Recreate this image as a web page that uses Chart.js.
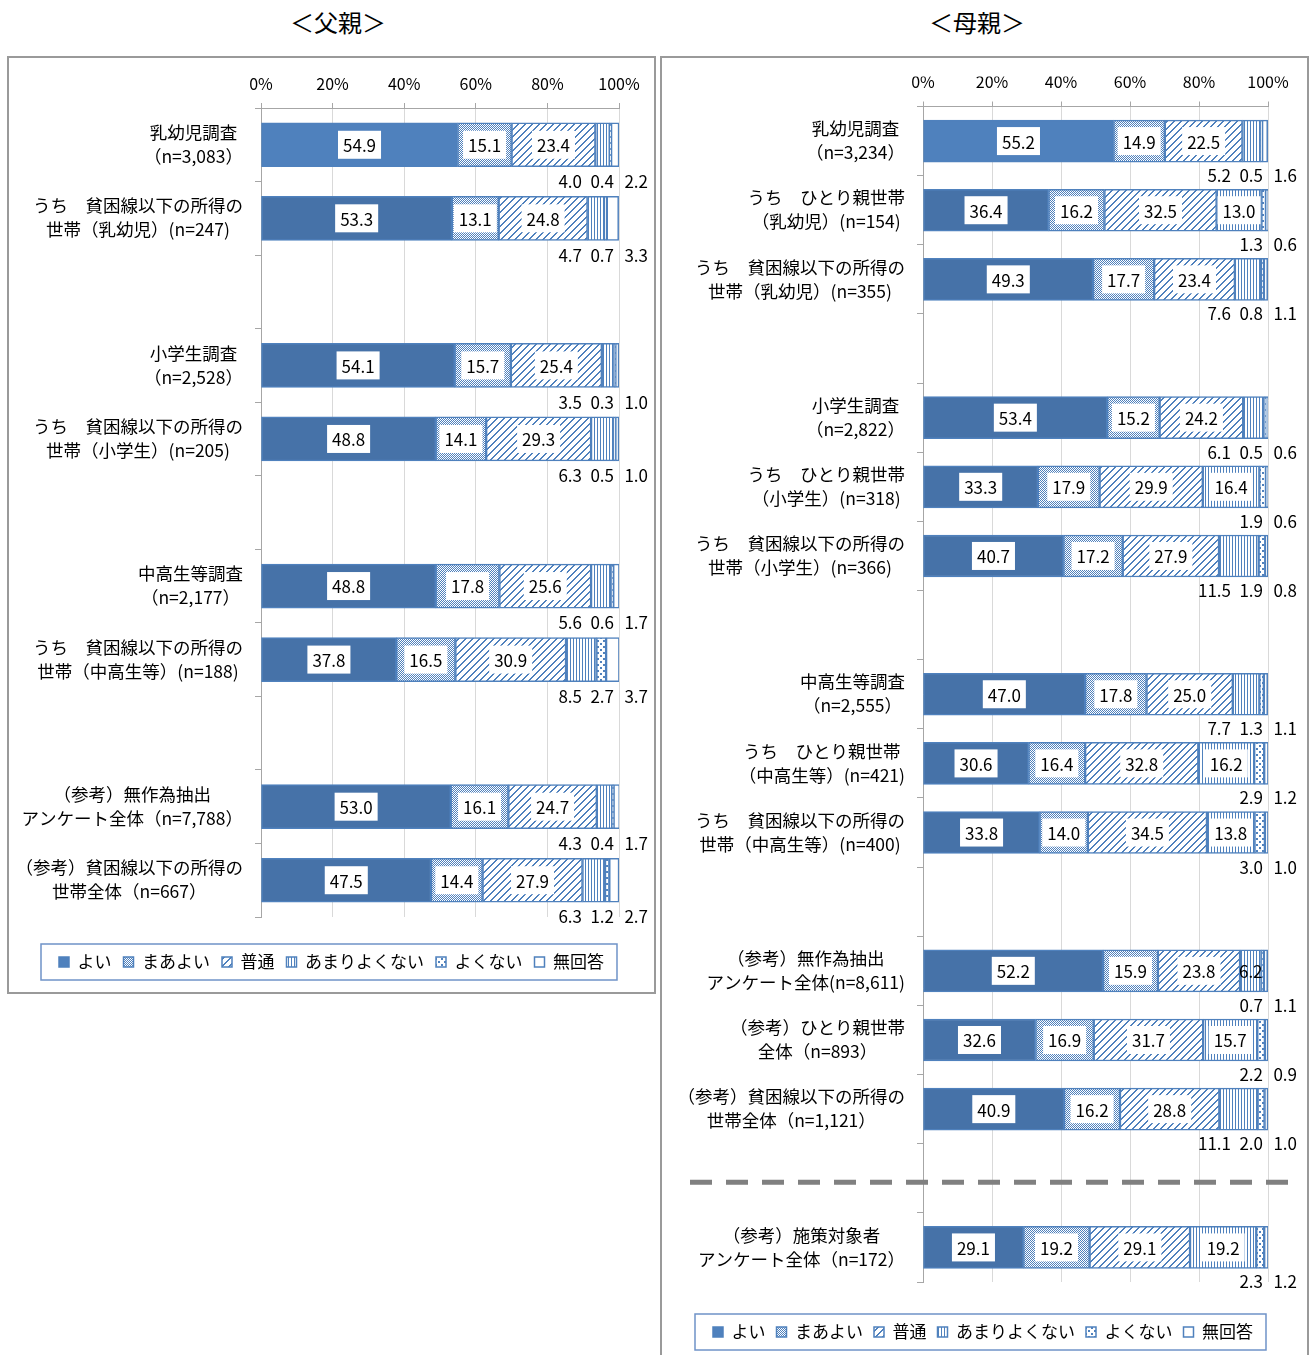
<!DOCTYPE html>
<html lang="ja">
<head>
<meta charset="utf-8">
<script src="https://cdn.jsdelivr.net/npm/chart.js@4.4.1/dist/chart.umd.min.js"></script>
<style>
  body { margin: 0; width: 1312px; height: 1355px; position: relative; overflow: hidden; background: #fff; font-family: "Noto Sans CJK JP", sans-serif; }
  .title { position: absolute; top: 6px; width: 200px; text-align: center; font-size: 24px; line-height: 32px; color: #000; }
  .panel { position: absolute; box-sizing: border-box; border: 2px solid #9a9a9a; }
  canvas { position: absolute; }
</style>
</head>
<body>
<div class="title" style="left:238px">＜父親＞</div>
<div class="title" style="left:877px">＜母親＞</div>
<div class="panel" style="left:7px;top:56px;width:649px;height:938px"></div>
<div class="panel" style="left:660px;top:56px;width:649px;height:1320px"></div>
<canvas id="father" width="645" height="933" style="left:9px;top:58px"></canvas>
<canvas id="mother" width="646" height="1297" style="left:662px;top:58px"></canvas>
<script>
const FONT = '"Noto Sans CJK JP", sans-serif';
Chart.defaults.font.family = FONT;
Chart.defaults.color = '#000';

const seriesNames = ['よい', 'まあよい', '普通', 'あまりよくない', 'よくない', '無回答'];
const xTicks = [0, 20, 40, 60, 80, 100];

// 父親 (empty slots are the gaps between groups)
const fatherRows = [
  ['乳幼児調査', '（n=3,083）'],
  ['うち　貧困線以下の所得の', '世帯（乳幼児）(n=247)'],
  [],
  ['小学生調査', '（n=2,528）'],
  ['うち　貧困線以下の所得の', '世帯（小学生）(n=205)'],
  [],
  ['中高生等調査', '（n=2,177）'],
  ['うち　貧困線以下の所得の', '世帯（中高生等）(n=188)'],
  [],
  ['（参考）無作為抽出', 'アンケート全体（n=7,788）'],
  ['（参考）貧困線以下の所得の', '世帯全体（n=667）']
];
const fatherGood     = [54.9, 53.3, null, 54.1, 48.8, null, 48.8, 37.8, null, 53.0, 47.5];
const fatherFairly   = [15.1, 13.1, null, 15.7, 14.1, null, 17.8, 16.5, null, 16.1, 14.4];
const fatherAverage  = [23.4, 24.8, null, 25.4, 29.3, null, 25.6, 30.9, null, 24.7, 27.9];
const fatherNotVery  = [4.0, 4.7, null, 3.5, 6.3, null, 5.6, 8.5, null, 4.3, 6.3];
const fatherBad      = [0.4, 0.7, null, 0.3, 0.5, null, 0.6, 2.7, null, 0.4, 1.2];
const fatherNoAnswer = [2.2, 3.3, null, 1.0, 1.0, null, 1.7, 3.7, null, 1.7, 2.7];

// 母親
const motherRows = [
  ['乳幼児調査', '（n=3,234）'],
  ['うち　ひとり親世帯', '（乳幼児）(n=154)'],
  ['うち　貧困線以下の所得の', '世帯（乳幼児）(n=355)'],
  [],
  ['小学生調査', '（n=2,822）'],
  ['うち　ひとり親世帯', '（小学生）(n=318)'],
  ['うち　貧困線以下の所得の', '世帯（小学生）(n=366)'],
  [],
  ['中高生等調査', '（n=2,555）'],
  ['うち　ひとり親世帯', '（中高生等）(n=421)'],
  ['うち　貧困線以下の所得の', '世帯（中高生等）(n=400)'],
  [],
  ['（参考）無作為抽出', 'アンケート全体(n=8,611)'],
  ['（参考）ひとり親世帯', '全体（n=893）'],
  ['（参考）貧困線以下の所得の', '世帯全体（n=1,121）'],
  [],
  ['（参考）施策対象者', 'アンケート全体（n=172）']
];
const motherGood     = [55.2, 36.4, 49.3, null, 53.4, 33.3, 40.7, null, 47.0, 30.6, 33.8, null, 52.2, 32.6, 40.9, null, 29.1];
const motherFairly   = [14.9, 16.2, 17.7, null, 15.2, 17.9, 17.2, null, 17.8, 16.4, 14.0, null, 15.9, 16.9, 16.2, null, 19.2];
const motherAverage  = [22.5, 32.5, 23.4, null, 24.2, 29.9, 27.9, null, 25.0, 32.8, 34.5, null, 23.8, 31.7, 28.8, null, 29.1];
const motherNotVery  = [5.2, 13.0, 7.6, null, 6.1, 16.4, 11.5, null, 7.7, 16.2, 13.8, null, 6.2, 15.7, 11.1, null, 19.2];
const motherBad      = [0.5, 1.3, 0.8, null, 0.5, 1.9, 1.9, null, 1.3, 2.9, 3.0, null, 0.7, 2.2, 2.0, null, 2.3];
const motherNoAnswer = [1.6, 0.6, 1.1, null, 0.6, 0.6, 0.8, null, 1.1, 1.2, 1.0, null, 1.1, 0.9, 1.0, null, 1.2];

const BLUE = '#4F81BD';
const DARK = '#4672A8';

function tile(w, h, on) {
  const c = document.createElement('canvas');
  c.width = w; c.height = h;
  const g = c.getContext('2d');
  g.fillStyle = '#fff';
  g.fillRect(0, 0, w, h);
  g.fillStyle = BLUE;
  for (let x = 0; x < w; x++)
    for (let y = 0; y < h; y++)
      if (on(x, y)) g.fillRect(x, y, 1, 1);
  return g.createPattern(c, 'repeat');
}

const fills = [
  c => c.dataIndex === 0 ? BLUE : DARK,
  tile(2, 2, (x, y) => (x + y) % 2 === 0),
  tile(7, 7, (x, y) => (x + y) % 7 < 2),
  tile(3, 1, x => x === 0),
  tile(6, 6, (x, y) => x % 3 < 2 && y % 3 < 2 && (x < 3) === (y < 3)),
  '#fff'
];

function rowLabels(rows) {
  return {
    id: 'rowLabels',
    afterDraw(chart) {
      const { ctx, scales: { y }, chartArea } = chart;
      ctx.save();
      ctx.font = '17.5px ' + FONT;
      ctx.fillStyle = '#000';
      ctx.textAlign = 'center';
      ctx.textBaseline = 'middle';
      rows.forEach((lines, j) => {
        if (!lines.length) return;
        const width = Math.max(...lines.map(l => ctx.measureText(l).width));
        const cx = chartArea.left - 18 - width / 2;
        const yc = y.getPixelForValue(j);
        lines.forEach((l, k) => ctx.fillText(l, cx, yc - 12.5 + 24 * k));
      });
      ctx.restore();
    }
  };
}

// big values sit in white boxes on the bar, small ones go under the bar end
function valueLabels(plainRows) {
  return {
    id: 'valueLabels',
    afterDatasetsDraw(chart) {
      const { ctx, scales: { x, y } } = chart;
      const half = (y.getPixelForValue(1) - y.getPixelForValue(0)) / 2;
      const edge = x.getPixelForValue(100);
      const below = [-37, -5, 29];
      ctx.save();
      ctx.font = '17px ' + FONT;
      ctx.textBaseline = 'middle';
      chart.data.datasets.forEach((ds, i) => {
        chart.getDatasetMeta(i).data.forEach((bar, j) => {
          const v = ds.data[j];
          if (v == null) return;
          const text = v.toFixed(1);
          const mid = (bar.x + bar.base) / 2;
          ctx.fillStyle = '#000';
          if (i < 3 || (i === 3 && v >= 12)) {
            const w = ctx.measureText(text).width + 10;
            ctx.fillStyle = '#fff';
            ctx.fillRect(mid - w / 2, bar.y - 14, w, 28);
            ctx.fillStyle = '#000';
            ctx.textAlign = 'center';
            ctx.fillText(text, mid, bar.y + 1);
          } else if (i === 3 && plainRows.includes(j)) {
            ctx.textAlign = 'center';
            ctx.fillText(text, mid, bar.y + 1);
          } else {
            ctx.textAlign = 'right';
            ctx.fillText(text, edge + below[i - 3], bar.y + half);
          }
        });
      });
      ctx.restore();
    }
  };
}

function separator(slot) {
  return {
    id: 'separator',
    afterDatasetsDraw(chart) {
      if (slot == null) return;
      const { ctx, scales: { y } } = chart;
      const yy = y.getPixelForValue(slot) + 4;
      ctx.save();
      ctx.strokeStyle = '#808080';
      ctx.lineWidth = 5;
      ctx.setLineDash([22, 14]);
      ctx.beginPath();
      ctx.moveTo(28, yy);
      ctx.lineTo(640, yy);
      ctx.stroke();
      ctx.restore();
    }
  };
}

const legendFrame = {
  id: 'legendFrame',
  afterDraw(chart) {
    const { ctx } = chart;
    const boxes = chart.legend.legendHitBoxes;
    const left = Math.min(...boxes.map(b => b.left)) - 18;
    const right = Math.max(...boxes.map(b => b.left + b.width)) + 13;
    const mid = boxes[0].top + boxes[0].height / 2;
    ctx.save();
    ctx.strokeStyle = '#6f93c8';
    ctx.lineWidth = 1.5;
    ctx.strokeRect(left, mid - 18, right - left, 36);
    ctx.restore();
  }
};

function buildChart(id, rows, values, layout) {
  return new Chart(document.getElementById(id), {
    type: 'bar',
    data: {
      labels: rows.map(r => r.join('')),
      datasets: values.map((data, i) => ({
        label: seriesNames[i],
        data,
        backgroundColor: fills[i],
        borderColor: BLUE,
        borderWidth: 1.5,
        borderSkipped: false,
        barThickness: layout.bar
      }))
    },
    options: {
      indexAxis: 'y',
      responsive: false,
      animation: false,
      layout: { padding: layout.padding },
      scales: {
        x: {
          position: 'top',
          stacked: true,
          min: 0,
          max: 100,
          afterBuildTicks: s => { s.ticks = xTicks.map(value => ({ value })); },
          ticks: { callback: v => v + '%', font: { size: 16 }, color: '#000', padding: 9.5 },
          grid: { color: '#d9d9d9', tickColor: '#a6a6a6', tickLength: 5 },
          border: { color: '#a6a6a6' },
          afterFit: s => { s.height = 30; }
        },
        y: {
          stacked: true,
          ticks: { display: false },
          grid: { drawOnChartArea: false, tickColor: '#a6a6a6', tickLength: 6 },
          border: { color: '#a6a6a6' },
          afterFit: s => { s.width = layout.axisWidth; }
        }
      },
      plugins: {
        tooltip: { enabled: false },
        legend: {
          position: 'bottom',
          title: { display: true, text: '', font: { size: 10, lineHeight: 1 }, padding: { top: layout.legendGap, bottom: 0 } },
          labels: { boxWidth: 10, boxHeight: 10, padding: layout.legendPad, font: { size: 17 }, color: '#000' }
        }
      }
    },
    plugins: [rowLabels(rows), valueLabels(layout.plainRows), separator(layout.separator), legendFrame]
  });
}

buildChart('father', fatherRows,
  [fatherGood, fatherFairly, fatherAverage, fatherNotVery, fatherBad, fatherNoAnswer],
  { padding: { top: 20, left: 35, right: 35, bottom: 10.5 }, axisWidth: 217, legendGap: 14.5, legendPad: 12, bar: 44, plainRows: [], separator: null });

buildChart('mother', motherRows,
  [motherGood, motherFairly, motherAverage, motherNotVery, motherBad, motherNoAnswer],
  { padding: { top: 18.5, left: 36, right: 40, bottom: 4.5 }, axisWidth: 225, legendGap: 20.5, legendPad: 11, bar: 42, plainRows: [12], separator: 15 });
</script>
</body>
</html>
